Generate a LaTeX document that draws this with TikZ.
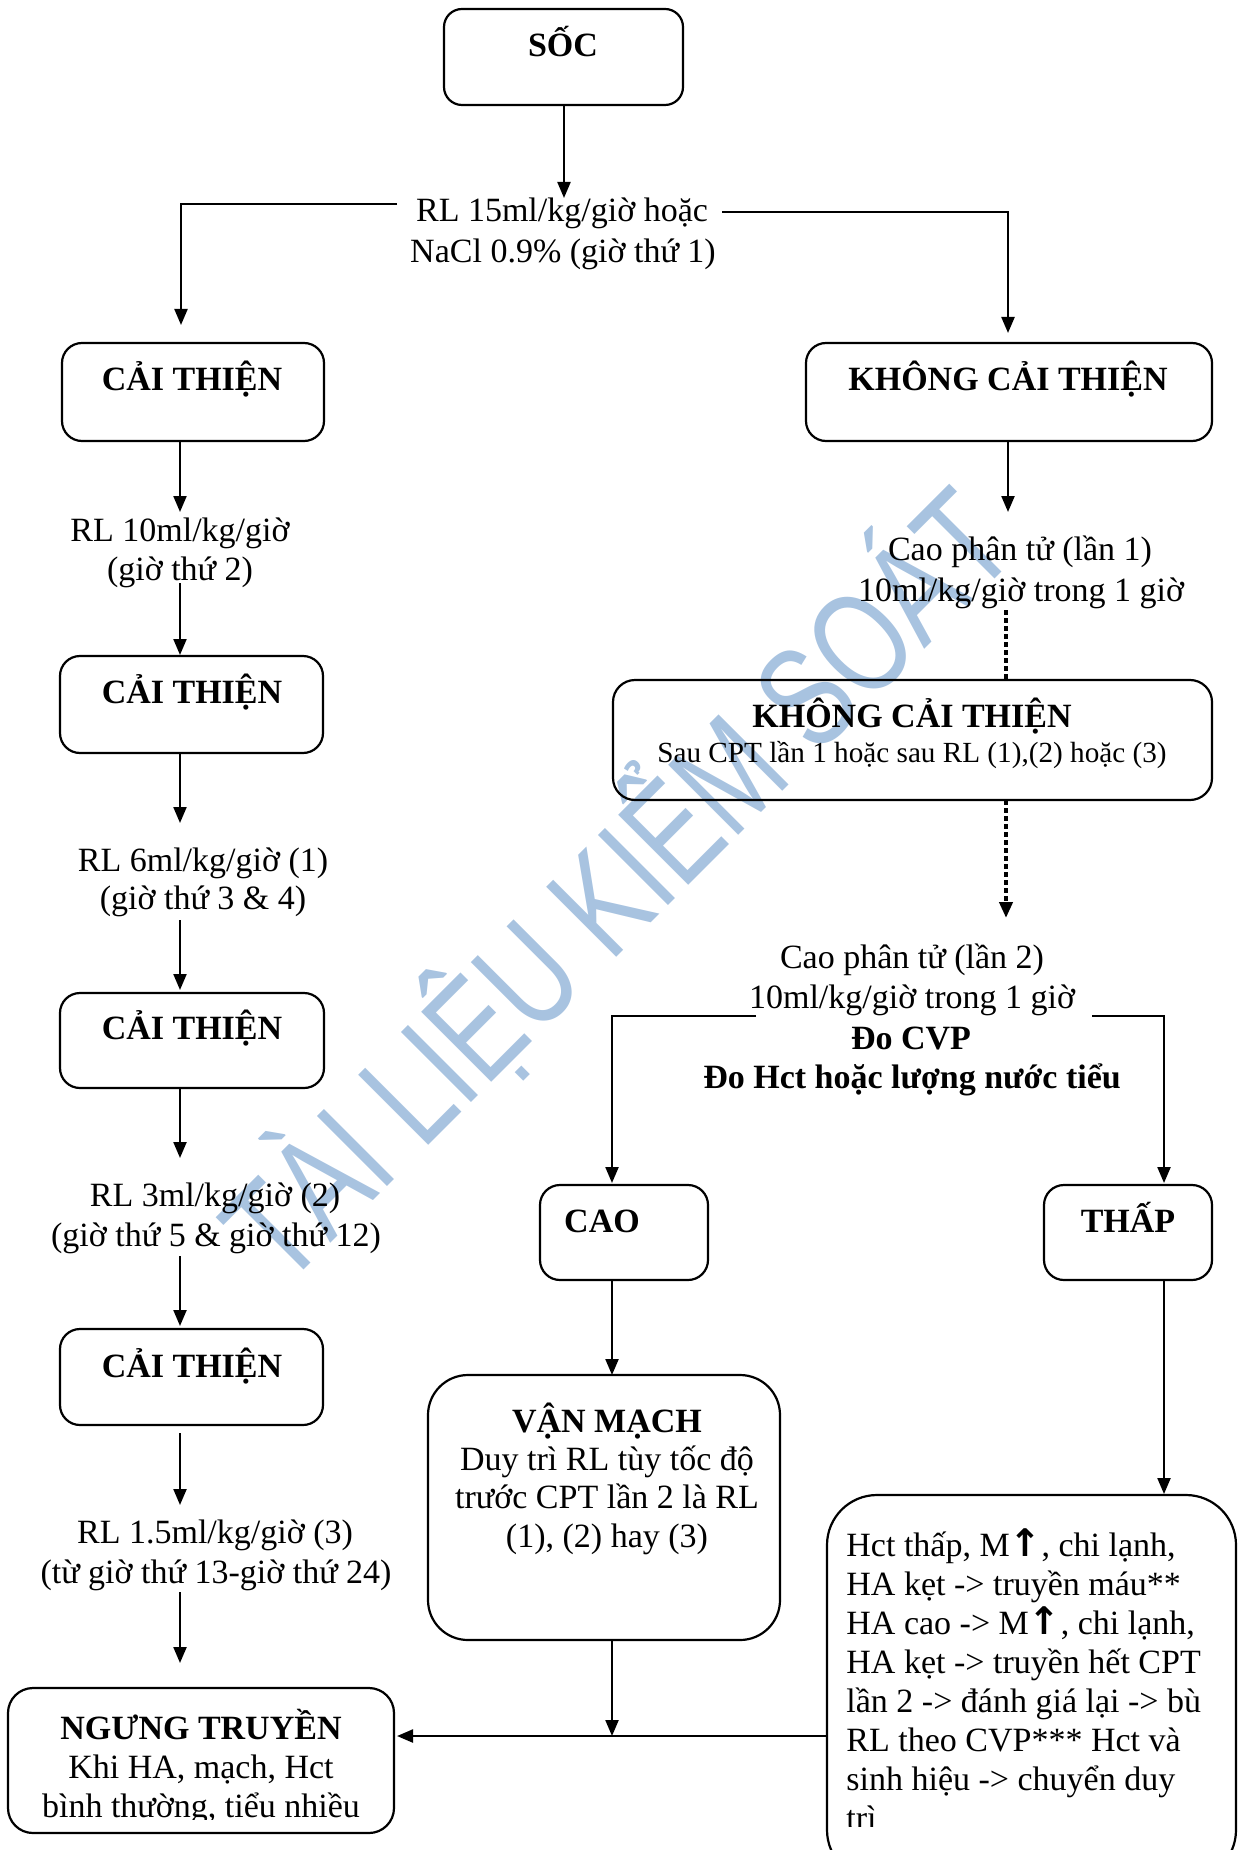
\documentclass[tikz,border=0pt]{standalone}
\usepackage{fontspec}
\setmainfont{Liberation Serif}
\newfontfamily\wmfont{Liberation Sans}
\newfontfamily\arrowfont{DejaVu Sans}
\usetikzlibrary{arrows.meta,fit}
\definecolor{wmblue}{RGB}{168,195,224}
\newcommand{\uparr}{{\arrowfont\bfseries\fontsize{19}{20}\selectfont ↑}}

\begin{document}
\begin{tikzpicture}[x=0.5pt,y=-0.5pt,
  box/.style={draw,line width=1.1pt,rounded corners=10pt,inner sep=0pt,outer sep=0pt},
  txt/.style={anchor=base,inner sep=0pt,font=\fontsize{17}{20}\selectfont},
  hd/.style={txt,font=\fontsize{17}{20}\selectfont\bfseries},
  sub/.style={txt,font=\fontsize{14.6}{17}\selectfont},
  lft/.style={txt,anchor=base west},
  conn/.style={line width=1.1pt},
  arr/.style={conn,-{Triangle[length=8pt,width=6.5pt]}},
  dots/.style={line width=2pt,dash pattern=on 2.5pt off 1.5pt},
  dotarr/.style={dots,-{Triangle[length=8pt,width=6.5pt]}},
  wm/.style={anchor=base west,inner sep=0pt,rotate=45,text=wmblue,
    font=\wmfont\fontsize{72}{72}\selectfont}
]
\useasboundingbox (0,0) rectangle (1238,1850);
\clip (0,0) rectangle (1238,1850);

% watermark behind everything
\node[wm] (wmark) at (284,1290) {\scalebox{0.74}[1]{TÀI LIỆU KIỂM SOÁT}};

% ---------- boxes ----------
\node[box,rounded corners=9pt,fit={(444,9)(683,105)}] (soc) {};
\node[box,fit={(62,343)(324,441)}] (c1) {};
\node[box,fit={(806,343)(1212,441)}] (k1) {};
\node[box,fit={(60,656)(323,753)}] (c2) {};
\node[box,rounded corners=11pt,fit={(613,680)(1212,800)}] (k2) {};
\node[box,fit={(60,993)(324,1088)}] (c3) {};
\node[box,fit={(60,1329)(323,1425)}] (c4) {};
\node[box,fit={(540,1185)(708,1280)}] (cao) {};
\node[box,fit={(1044,1185)(1212,1280)}] (thap) {};
\node[box,rounded corners=20pt,fit={(428,1375)(780,1640)}] (vm) {};
\node[box,rounded corners=12.5pt,fit={(8,1688)(394,1833)}] (ngung) {};
\node[box,rounded corners=25pt,fit={(827,1495)(1236,1880)}] (hct) {};

% ---------- box titles ----------
\node[hd] (socT) at (563,57) {SỐC};
\node[hd] (c1T) at (192,391) {CẢI THIỆN};
\node[hd] (k1T) at (1008,391) {KHÔNG CẢI THIỆN};
\node[hd] (c2T) at (192,703) {CẢI THIỆN};
\node[hd] (k2T) at (912,727) {KHÔNG CẢI THIỆN};
\node[sub] (k2S) at (912,762) {Sau CPT lần 1 hoặc sau RL (1),(2) hoặc (3)};
\node[hd] (c3T) at (192,1039) {CẢI THIỆN};
\node[hd] (c4T) at (192,1377) {CẢI THIỆN};
\node[hd] (caoT) at (602,1232) {CAO};
\node[hd] (thapT) at (1128,1232) {THẤP};

\node[hd] (vmT) at (607,1432) {VẬN MẠCH};
\node[txt] (vm1) at (607,1470) {Duy trì RL tùy tốc độ};
\node[txt] (vm2) at (607,1508) {trước CPT lần 2 là RL};
\node[txt] (vm3) at (607,1547) {(1), (2) hay (3)};

\begin{scope}
  \clip (0,0) rectangle (1238,1819);
  \node[hd] (ngT) at (201,1739) {NGƯNG TRUYỀN};
  \node[txt] (ng1) at (201,1778) {Khi HA, mạch, Hct};
  \node[txt] (ng2) at (201,1817) {bình thường, tiểu nhiều};
\end{scope}

\begin{scope}
  \clip (0,0) rectangle (1238,1826);
  \node[lft] (h1) at (846,1556) {Hct thấp, M\uparr, chi lạnh,};
  \node[lft] (h2) at (846,1595) {HA kẹt -> truyền máu**};
  \node[lft] (h3) at (846,1634) {HA cao -> M\uparr, chi lạnh,};
  \node[lft] (h4) at (846,1673) {HA kẹt -> truyền hết CPT};
  \node[lft] (h5) at (846,1712) {lần 2 -> đánh giá lại -> bù};
  \node[lft] (h6) at (846,1751) {RL theo CVP*** Hct và};
  \node[lft] (h7) at (846,1790) {sinh hiệu -> chuyển duy};
  \node[lft] (h8) at (846,1829) {trì};
\end{scope}

% ---------- free text steps ----------
\node[txt] (r15a) at (562,222) {RL 15ml/kg/giờ hoặc};
\node[txt] (r15b) at (563,263) {NaCl 0.9\% (giờ thứ 1)};
\node[txt] (r10a) at (180,541) {RL 10ml/kg/giờ};
\node[txt] (r10b) at (180,580) {(giờ thứ 2)};
\node[txt] (r6a) at (203,871) {RL 6ml/kg/giờ (1)};
\node[txt] (r6b) at (203,909) {(giờ thứ 3 \& 4)};
\node[txt] (r3a) at (215,1206) {RL 3ml/kg/giờ (2)};
\node[txt] (r3b) at (216,1246) {(giờ thứ 5 \& giờ thứ 12)};
\node[txt] (r1a) at (215,1543) {RL 1.5ml/kg/giờ (3)};
\node[txt] (r1b) at (216,1583) {(từ giờ thứ 13-giờ thứ 24)};
\node[txt] (p1a) at (1020,560) {Cao phân tử (lần 1)};
\node[txt] (p1b) at (1021,601) {10ml/kg/giờ trong 1 giờ};
\node[txt] (p2a) at (912,968) {Cao phân tử (lần 2)};
\node[txt] (p2b) at (912,1008) {10ml/kg/giờ trong 1 giờ};
\node[hd] (p2c) at (911,1049) {Đo CVP};
\node[hd] (p2d) at (912,1088) {Đo Hct hoặc lượng nước tiểu};

% ---------- connector points ----------
\coordinate (colL) at (180,0);
\coordinate (socTip) at (564,198);
\coordinate (lA) at (397,204);
\coordinate (lB) at (181,204);
\coordinate (lTip) at (181,325);
\coordinate (rA) at (722,212);
\coordinate (rB) at (1008,212);
\coordinate (rTip) at (1008,333);
\coordinate (a1) at (180,512);
\coordinate (a2s) at (180,583);
\coordinate (a2) at (180,655);
\coordinate (a3) at (180,823);
\coordinate (a4s) at (180,920);
\coordinate (a4) at (180,990);
\coordinate (a5) at (180,1158);
\coordinate (a6s) at (180,1256);
\coordinate (a6) at (180,1326);
\coordinate (a7s) at (180,1433);
\coordinate (a7) at (180,1505);
\coordinate (a8s) at (180,1592);
\coordinate (a8) at (180,1663);
\coordinate (k1Tip) at (1008,512);
\coordinate (d1s) at (1006,610);
\coordinate (d2Tip) at (1006,918);
\coordinate (mL) at (756,1016);
\coordinate (mLc) at (612,1016);
\coordinate (mR) at (1092,1016);
\coordinate (mRc) at (1164,1016);
\coordinate (join) at (612,1736);

% ---------- connectors ----------
\draw[arr] (soc.south -| socTip) -- (socTip);
\draw[arr] (lA) -- (lB) -- (lTip);
\draw[arr] (rA) -- (rB) -- (rTip);
\draw[arr] (c1.south -| colL) -- (a1);
\draw[arr] (a2s) -- (a2);
\draw[arr] (c2.south -| colL) -- (a3);
\draw[arr] (a4s) -- (a4);
\draw[arr] (c3.south -| colL) -- (a5);
\draw[arr] (a6s) -- (a6);
\draw[arr] (a7s) -- (a7);
\draw[arr] (a8s) -- (a8);
\draw[arr] (k1.south -| k1Tip) -- (k1Tip);
\draw[dots] (d1s) -- (k2.north -| d1s);
\draw[dotarr] (k2.south -| d2Tip) -- (d2Tip);
\draw[arr] (mL) -- (mLc) -- ([yshift=1pt]cao.north -| mLc);
\draw[arr] (mR) -- (mRc) -- ([yshift=1pt]thap.north -| mRc);
\draw[arr] (cao.south -| mLc) -- (vm.north -| mLc);
\draw[arr] (thap.south -| mRc) -- ([yshift=0.5pt]hct.north -| mRc);
\draw[arr] (vm.south -| join) -- (join);
\draw[arr] (hct.west |- join) -- ([xshift=1.5pt]ngung.east |- join);
\end{tikzpicture}
\end{document}
